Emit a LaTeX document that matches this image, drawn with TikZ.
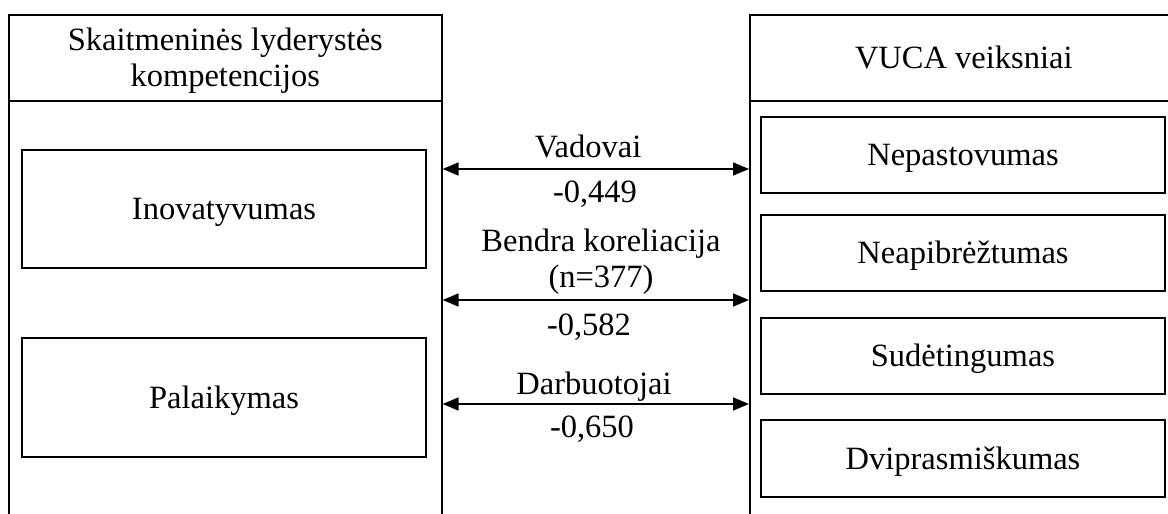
\documentclass[tikz,border=0pt]{standalone}
\usepackage{fontspec}
\setmainfont{Liberation Serif}
\usetikzlibrary{arrows.meta}
\begin{document}
\begin{tikzpicture}[x=1pt,y=-1pt,
  box/.style={draw, line width=1.6pt, inner sep=0pt},
  txt/.style={font=\fontsize{32.5}{36}\selectfont, inner sep=0pt, align=center,
              text height=28.5pt, text depth=7pt},
  twoline/.style={text height=64.5pt},
  link/.style={line width=1.6pt,
               {Triangle[length=16pt,width=13pt]}-{Triangle[length=16pt,width=13pt]}}]
\useasboundingbox (0,0) rectangle (1168,514);
\clip (0,0) rectangle (1168,514);

% the two columns, running past the lower edge
\node[box, minimum width=433pt, minimum height=540pt, anchor=north west] (lcol) at (8,14) {};
\node[box, minimum width=428pt, minimum height=540pt, anchor=north west] (rcol) at (749,14) {};

% column headers
\node[box, txt, twoline, minimum width=433pt, minimum height=86pt, anchor=north west] (lhead) at (8,14)
  {Skaitmeninės lyderystės\\kompetencijos};
\node[box, txt, minimum width=428pt, minimum height=86pt, anchor=north west] (rhead) at (749,14)
  {VUCA veiksniai};

% leadership competences
\node[box, txt, minimum width=404pt, minimum height=118pt] (inov) at (224,209) {Inovatyvumas};
\node[box, txt, minimum width=404pt, minimum height=119pt] (pal) at (224,397.5) {Palaikymas};

% VUCA factors
\node[box, txt, minimum width=404pt, minimum height=76pt] (nep) at (963,155) {Nepastovumas};
\node[box, txt, minimum width=404pt, minimum height=76pt] (neap) at (963,253) {Neapibrėžtumas};
\node[box, txt, minimum width=404pt, minimum height=76pt] (sud) at (963,356) {Sudėtingumas};
\node[box, txt, minimum width=404pt, minimum height=77pt] (dvi) at (963,458.5) {Dviprasmiškumas};

% correlations between the columns
\draw[link] (lcol.east |- 0,169) -- (rcol.west |- 0,169);
\draw[link] (lcol.east |- 0,300) -- (rcol.west |- 0,300);
\draw[link] (lcol.east |- 0,404) -- (rcol.west |- 0,404);

% correlation labels
\node[txt, anchor=north] (vad) at (588,128.5) {Vadovai};
\node[txt, anchor=north] (vadr) at (595,173.5) {-0,449};
\node[txt, twoline, anchor=north] (ben) at (601,222.5) {Bendra koreliacija\\(n=377)};
\node[txt, anchor=north] (benr) at (589,306.5) {-0,582};
\node[txt, anchor=north] (dar) at (594,365.5) {Darbuotojai};
\node[txt, anchor=north] (darr) at (592,408.5) {-0,650};
\end{tikzpicture}
\end{document}
